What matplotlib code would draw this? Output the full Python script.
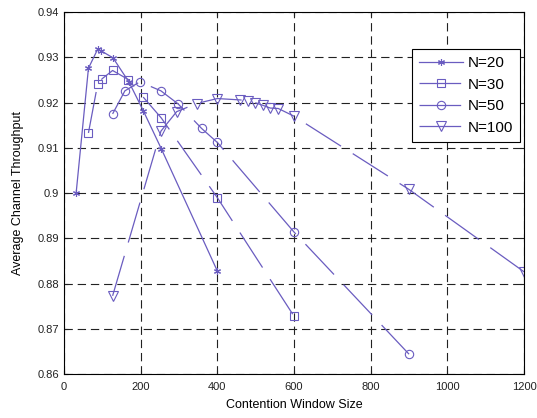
import matplotlib.pyplot as plt

plt.rcParams['font.family'] = ['Liberation Sans', 'DejaVu Sans']
plt.rcParams['lines.scale_dashes'] = False

# dados
cw20 = [32, 64, 88, 98, 128, 170, 207, 254, 400]
th20 = [0.9001, 0.9276, 0.9318, 0.9314, 0.9299, 0.9245, 0.9182, 0.9098, 0.8828]

cw30 = [64, 88, 100, 127, 168, 207, 254, 400, 600]
th30 = [0.9133, 0.9241, 0.9253, 0.9271, 0.9251, 0.9212, 0.9166, 0.8990, 0.8728]

cw50 = [127, 159, 198, 253, 298, 359, 400, 600, 900]
th50 = [0.9175, 0.9226, 0.9246, 0.9226, 0.9197, 0.9143, 0.9112, 0.8914, 0.8644]

cw100 = [127, 253, 294, 346, 400, 459, 480, 498, 519, 538, 559, 600, 900, 1200]
th100 = [0.8773, 0.9137, 0.9180, 0.9198, 0.9209, 0.9206, 0.9204, 0.9200, 0.9194,
         0.9188, 0.9187, 0.9170, 0.9008, 0.8826]

cor = '#6a5cc0'
tracos = (30, 10)
asterisco = (6, 2, 0)

fig = plt.figure(figsize=(5.37, 4.18), dpi=100)
ax = fig.add_axes([0.119, 0.105, 0.857, 0.866])

ax.plot(cw20, th20, color=cor, lw=0.9, marker=asterisco, ms=5,
        mew=0.8, label='N=20')
ax.plot(cw30, th30, color=cor, lw=0.9, dashes=tracos, marker='s', ms=6,
        mew=0.8, fillstyle='none', label='N=30')
ax.plot(cw50, th50, color=cor, lw=0.9, dashes=tracos, marker='o', ms=6,
        mew=0.8, fillstyle='none', label='N=50')
ax.plot(cw100, th100, color=cor, lw=0.9, dashes=tracos, marker='v', ms=7.5,
        mew=0.8, fillstyle='none', label='N=100')

ax.set_xlim(0, 1200)
ax.set_ylim(0.86, 0.94)
ax.set_xticks([0, 200, 400, 600, 800, 1000, 1200])
ax.set_yticks([0.86, 0.87, 0.88, 0.89, 0.9, 0.91, 0.92, 0.93, 0.94])
ax.set_yticklabels(['0.86', '0.87', '0.88', '0.89', '0.9', '0.91', '0.92', '0.93', '0.94'])
ax.tick_params(direction='in', top=True, right=True, labelsize=8, length=3, colors='#222222')
ax.tick_params(axis='x', pad=6)
ax.grid(True, color='#222222', linestyle=(0, (6, 3.5)), linewidth=0.8)

ax.set_xlabel('Contention Window Size', fontsize=9, labelpad=5)
ax.set_ylabel('Average Channel Throughput', fontsize=9, labelpad=10)

leg = ax.legend(loc='upper right', bbox_to_anchor=(0.991, 0.898), borderaxespad=0,
                fontsize=11, fancybox=False, edgecolor='black', framealpha=1,
                handlelength=2.9, borderpad=0.45, labelspacing=0.5, handletextpad=0.3)
leg.get_frame().set_linewidth(0.8)

fig.savefig('out.png', dpi=100)
